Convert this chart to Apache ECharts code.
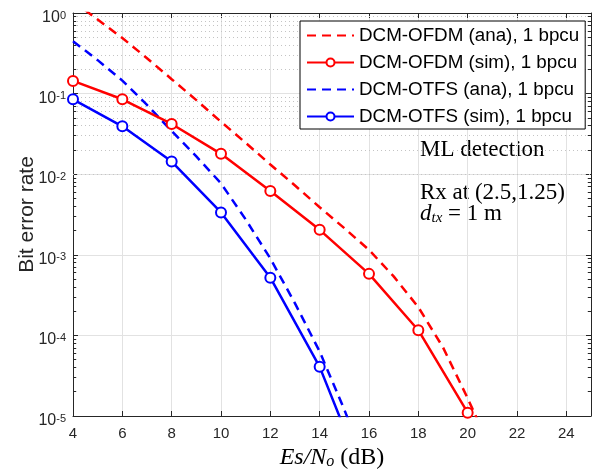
<!DOCTYPE html>
<html>
<head>
<meta charset="utf-8">
<title>BER vs Es/No</title>
<script src="https://cdn.jsdelivr.net/npm/echarts@6/dist/echarts.min.js"></script>
<style>
  html, body { margin: 0; padding: 0; background: #fff; }
  #chart { width: 594px; height: 475px; }
</style>
</head>
<body>
<div id="chart"></div>
<script>
// Es/No grid (dB)
var snrOfdmAna = [4, 5, 6, 7, 8, 9, 10, 11, 12, 13, 14, 15, 16, 17, 18, 19, 20, 21];
var snrOfdmSim = [4, 6, 8, 10, 12, 14, 16, 18, 20];
var snrOtfsAna = [4, 5, 6, 7, 8, 9, 10, 11, 12, 13, 14, 15, 16];
var snrOtfsSim = [4, 6, 8, 10, 12, 14, 16];

// bit error rates
var ofdmAna = [1.41, 0.83, 0.49, 0.275, 0.151, 0.083, 0.0447, 0.0245, 0.0132, 0.00724,
               0.00389, 0.00214, 0.00115, 5.4e-4, 2.24e-4, 7.1e-5, 1.66e-5, 3.5e-6];
var ofdmSim = [0.1436, 0.085, 0.042, 0.0179, 0.0062, 0.00204, 5.8e-4, 1.16e-4, 1.1e-5];
var otfsAna = [0.447, 0.26, 0.145, 0.0724, 0.0343, 0.0166, 0.00769, 0.00275, 9.0e-4,
               2.5e-4, 6.3e-5, 1.2e-5, 2e-6];
var otfsSim = [0.085, 0.0393, 0.01435, 0.00335, 5.2e-4, 4.07e-5, 1.2e-6];

var names = ['DCM-OFDM (ana), 1 bpcu', 'DCM-OFDM (sim), 1 bpcu',
             'DCM-OTFS (ana), 1 bpcu', 'DCM-OTFS (sim), 1 bpcu'];

var sans = '"Liberation Sans", Arial, sans-serif';
var serif = '"Liberation Serif", "DejaVu Serif", serif';
var axisCol = '#262626';

function pairs(xs, ys) {
  return xs.map(function (x, i) { return [x, ys[i]]; });
}

// dotted minor grid + small minor ticks at 2..9 x 10^k (matlab style)
var minorGrid = [];
var tickStyle = { color: axisCol, type: 'solid', width: 1 };
for (var e = -5; e < 0; e++) {
  for (var m = 2; m <= 9; m++) {
    var v = m * Math.pow(10, e);
    minorGrid.push({ yAxis: v });
    minorGrid.push([{ coord: [4, v], lineStyle: tickStyle }, { coord: [4.13, v] }]);
    minorGrid.push([{ coord: [24.87, v], lineStyle: tickStyle }, { coord: [25, v] }]);
  }
}

function yLab(v) {
  var ex = Math.round(Math.log10(v));
  return '{b|10}{s|' + ex + '}';
}
var yRich = {
  b: { fontSize: 16, lineHeight: 16, padding: [9, 0, 0, 0], fontFamily: sans, color: axisCol },
  s: { fontSize: 11, lineHeight: 11, padding: [5, 0, 0, 0], verticalAlign: 'top', fontFamily: sans, color: axisCol }
};

// dashed curves have no marker in the legend
var hideMark = { opacity: 0, color: 'rgba(0,0,0,0)', borderWidth: 0 };

var option = {
  animation: false,
  backgroundColor: '#fff',
  grid: { left: 73, top: 13, right: 2, bottom: 52, containLabel: false },
  legend: {
    orient: 'vertical',
    left: 300, top: 21, z: 10,
    data: [
      { name: names[0], itemStyle: hideMark },
      { name: names[1] },
      { name: names[2], itemStyle: hideMark },
      { name: names[3] }
    ],
    backgroundColor: '#fff',
    borderColor: '#000', borderWidth: 1, borderRadius: 0,
    padding: [5, 6, 3, 6],
    itemWidth: 47, itemHeight: 10, itemGap: 8,
    textStyle: { fontFamily: sans, fontSize: 18.8, color: '#000', lineHeight: 18 }
  },
  xAxis: [{
    type: 'value', min: 4, max: 25, interval: 2,
    name: '{i|Es/N}{sub|o}{r| (dB)}',
    nameLocation: 'middle', nameGap: 30, nameMoveOverlap: false,
    nameTextStyle: {
      rich: {
        i: { fontFamily: serif, fontStyle: 'italic', fontSize: 24, color: '#000' },
        sub: { fontFamily: serif, fontStyle: 'italic', fontSize: 16, color: '#000', verticalAlign: 'bottom' },
        r: { fontFamily: serif, fontSize: 24, color: '#000' }
      }
    },
    axisLine: { lineStyle: { color: axisCol, width: 1 } },
    axisTick: { inside: true, length: 5, lineStyle: { color: axisCol } },
    axisLabel: {
      margin: 10, fontFamily: sans, fontSize: 15, color: axisCol,
      formatter: function (v) { return v === 25 ? '' : v; }
    },
    splitLine: { show: true, lineStyle: { color: '#e2e2e2', width: 1 } }
  }, {
    type: 'value', min: 4, max: 25, interval: 2, position: 'top',
    axisLine: { lineStyle: { color: axisCol, width: 1 } },
    axisTick: { inside: true, length: 5, lineStyle: { color: axisCol } },
    axisLabel: { show: false },
    splitLine: { show: false }
  }],
  yAxis: [{
    type: 'log', logBase: 10, min: 1e-5, max: 1, interval: 1,
    name: 'Bit error rate', nameLocation: 'middle', nameGap: 35, nameMoveOverlap: false,
    nameTextStyle: { fontFamily: sans, fontSize: 21, color: axisCol },
    axisLine: { show: true, lineStyle: { color: axisCol, width: 1 } },
    axisTick: { show: true, inside: true, length: 5, lineStyle: { color: axisCol } },
    axisLabel: { margin: 7, formatter: yLab, rich: yRich },
    splitLine: { show: true, lineStyle: { color: '#e2e2e2', width: 1 } }
  }, {
    type: 'log', logBase: 10, min: 1e-5, max: 1, interval: 1, position: 'right',
    axisLine: { show: true, lineStyle: { color: axisCol, width: 1 } },
    axisTick: { show: true, inside: true, length: 5, lineStyle: { color: axisCol } },
    axisLabel: { show: false },
    splitLine: { show: false }
  }],
  graphic: [
    { type: 'text', x: 420, y: 150,
      style: { text: 'ML detection', fontFamily: serif, fontSize: 23, fill: '#000', verticalAlign: 'middle' } },
    { type: 'text', x: 420, y: 193,
      style: { text: 'Rx at (2.5,1.25)', fontFamily: serif, fontSize: 23, fill: '#000', verticalAlign: 'middle' } },
    { type: 'text', x: 420, y: 214,
      style: {
        text: '{i|d}{s|tx}{r| = 1 m}', verticalAlign: 'middle',
        rich: {
          i: { fontFamily: serif, fontStyle: 'italic', fontSize: 23, fill: '#000' },
          s: { fontFamily: serif, fontStyle: 'italic', fontSize: 15, fill: '#000', verticalAlign: 'bottom' },
          r: { fontFamily: serif, fontSize: 23, fill: '#000' }
        }
      } }
  ],
  series: [{
    name: 'minor grid', type: 'line', data: [], z: 1, silent: true,
    markLine: {
      z: 1, silent: true, symbol: ['none', 'none'], label: { show: false },
      lineStyle: { color: '#c4c4c4', type: [1, 3], width: 1 },
      data: minorGrid
    }
  }, {
    name: names[0], type: 'line', data: pairs(snrOfdmAna, ofdmAna),
    symbol: 'none', z: 3,
    lineStyle: { color: '#ff0000', width: 2.5, type: [9, 6] },
    itemStyle: { color: '#ff0000' }
  }, {
    name: names[1], type: 'line', data: pairs(snrOfdmSim, ofdmSim),
    symbol: 'emptyCircle', symbolSize: 10, z: 4,
    lineStyle: { color: '#ff0000', width: 2.5 },
    itemStyle: { color: '#ff0000', borderWidth: 2 }
  }, {
    name: names[2], type: 'line', data: pairs(snrOtfsAna, otfsAna),
    symbol: 'none', z: 3,
    lineStyle: { color: '#0000ff', width: 2.5, type: [9, 6] },
    itemStyle: { color: '#0000ff' }
  }, {
    name: names[3], type: 'line', data: pairs(snrOtfsSim, otfsSim),
    symbol: 'emptyCircle', symbolSize: 10, z: 4,
    lineStyle: { color: '#0000ff', width: 2.5 },
    itemStyle: { color: '#0000ff', borderWidth: 2 }
  }]
};

var myChart = echarts.init(document.getElementById('chart'));
myChart.setOption(option);
window.addEventListener('resize', function () { myChart.resize(); });
</script>
</body>
</html>
